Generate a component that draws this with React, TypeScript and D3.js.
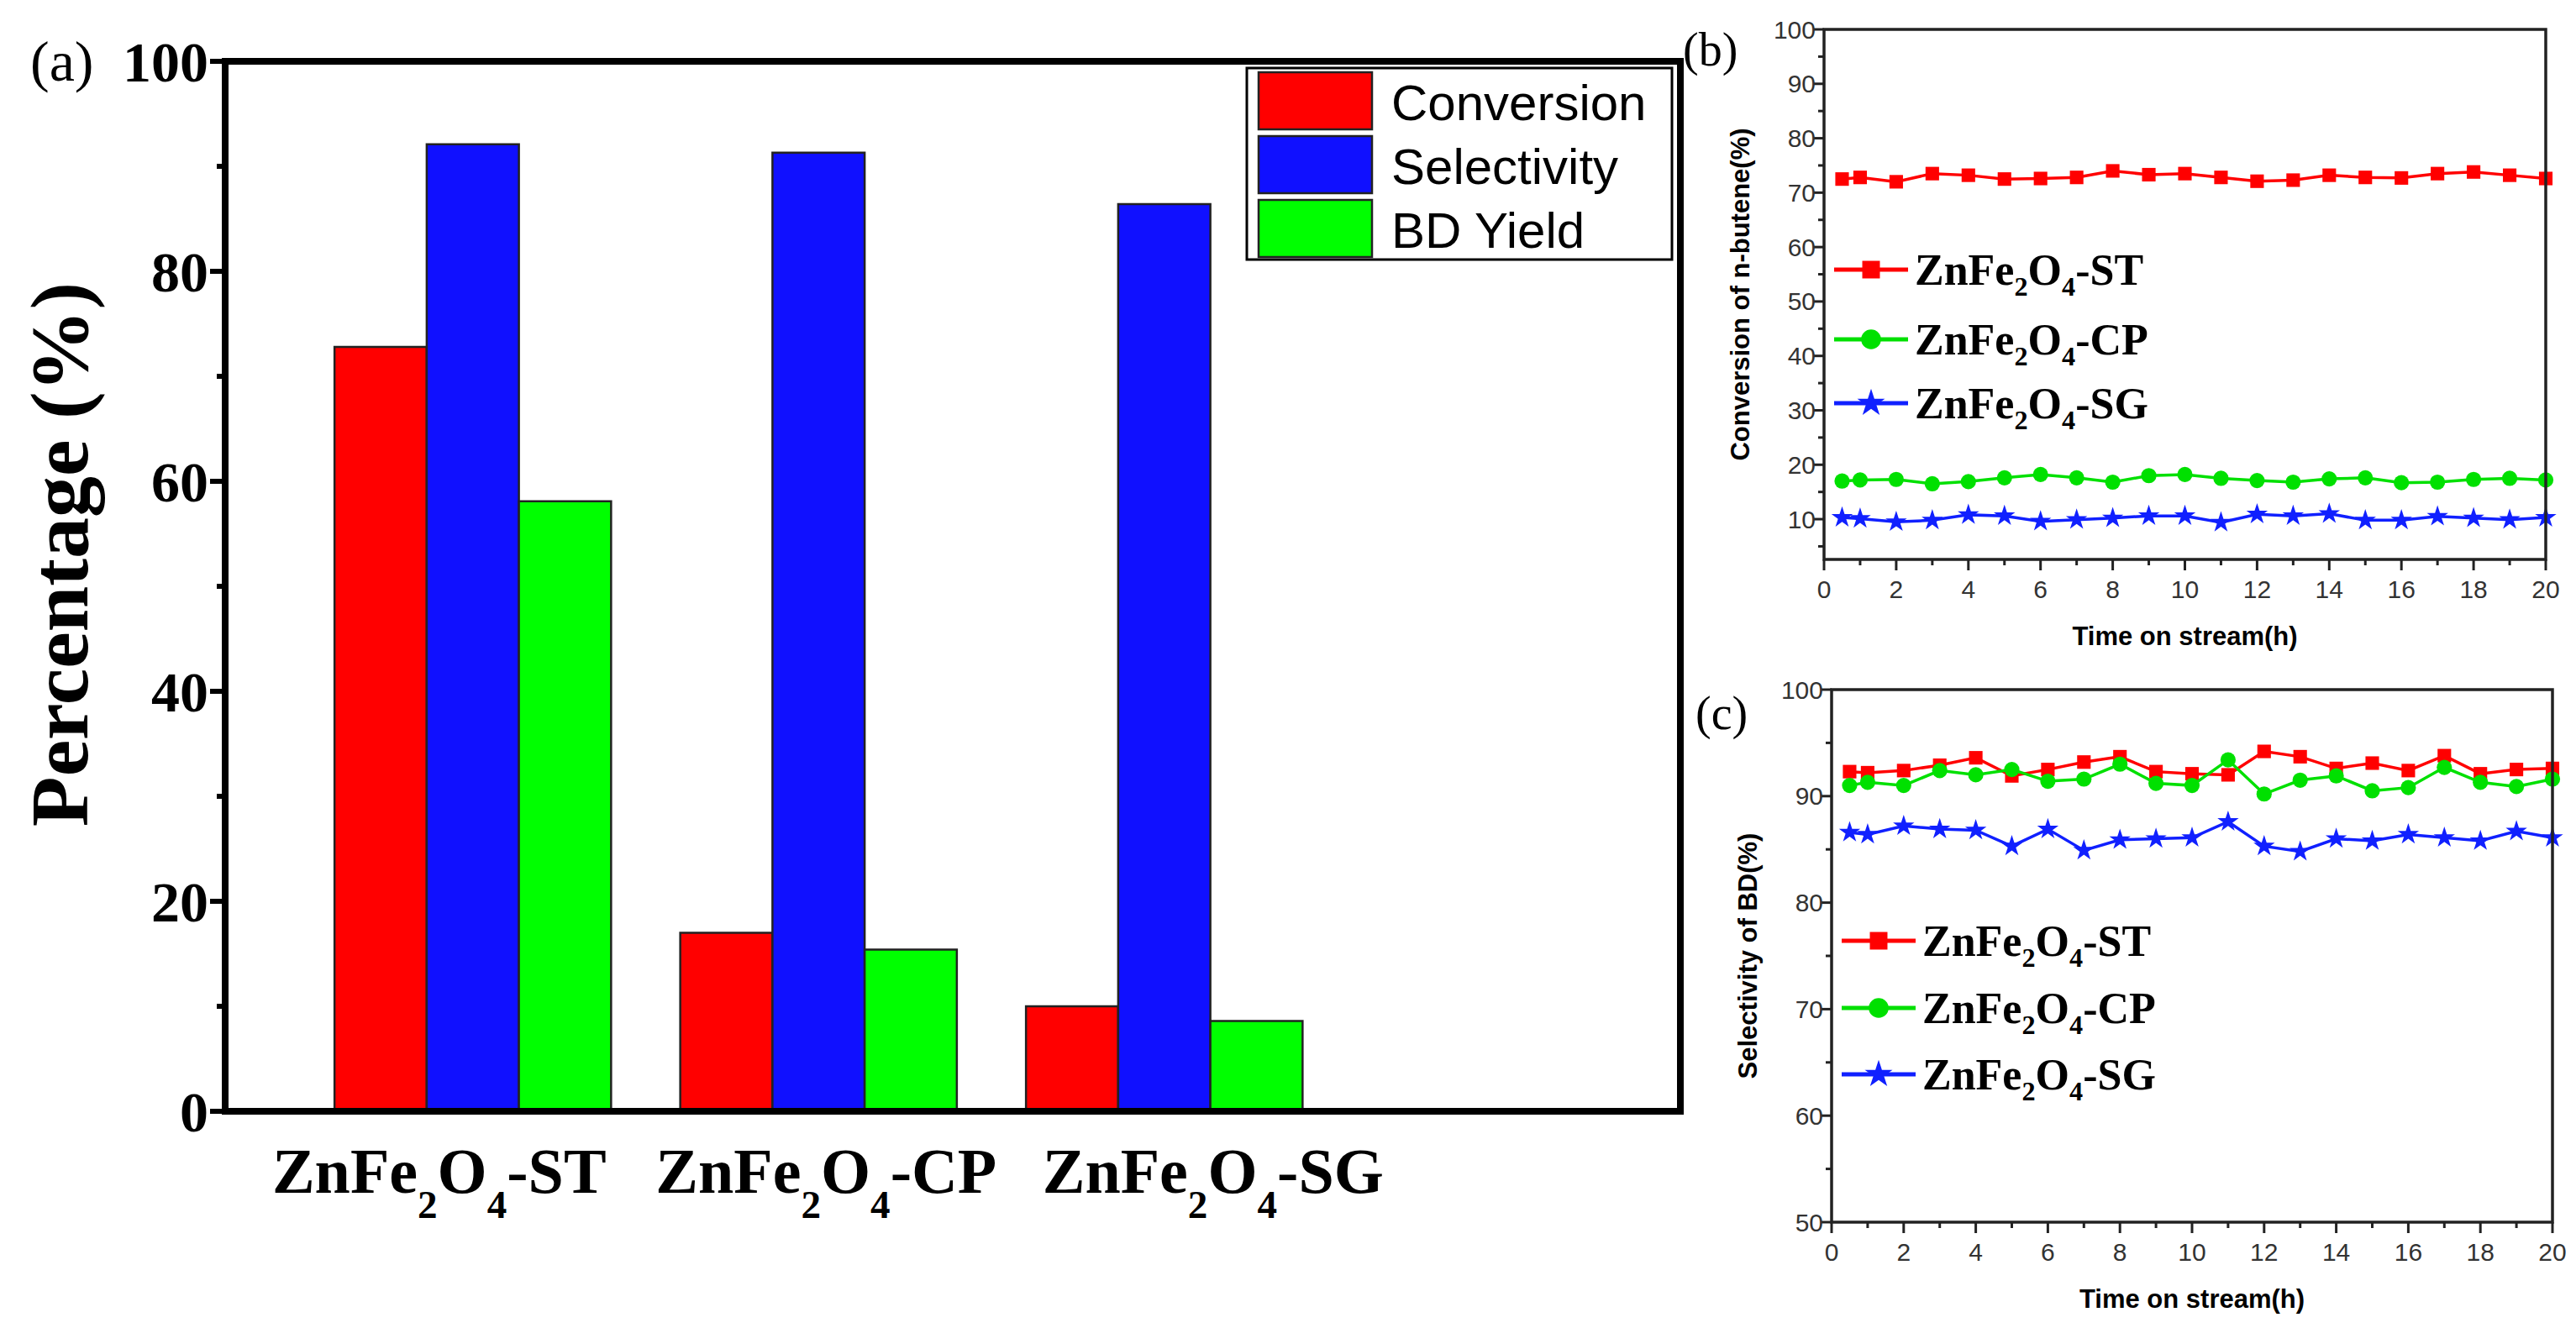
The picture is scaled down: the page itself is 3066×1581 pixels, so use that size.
import React from 'react'
import * as d3 from 'd3'

const samples = ['ST', 'CP', 'SG']
const barSeries = ['Conversion', 'Selectivity', 'BD Yield']
const barColors = ['#ff0000', '#1010ff', '#00ff00']
const conversionBar = [72.8, 17.0, 10.0]
const selectivityBar = [92.1, 91.3, 86.4]
const yieldBar = [58.1, 15.4, 8.6]

const hours = [0.5, 1, 2, 3, 4, 5, 6, 7, 8, 9, 10, 11, 12, 13, 14, 15, 16, 17, 18, 19, 20]
const convST = [72.5, 72.8, 72, 73.5, 73.2, 72.5, 72.6, 72.8, 74, 73.3, 73.5, 72.8, 72.1, 72.3, 73.2, 72.8, 72.7, 73.5, 73.8, 73.2, 72.6]
const convCP = [17, 17.2, 17.3, 16.5, 16.9, 17.6, 18.2, 17.6, 16.8, 18, 18.2, 17.5, 17.1, 16.8, 17.4, 17.6, 16.7, 16.8, 17.3, 17.5, 17.2]
const convSG = [10.3, 10.1, 9.5, 9.8, 10.8, 10.6, 9.6, 9.9, 10.2, 10.6, 10.6, 9.4, 10.9, 10.6, 11, 9.8, 9.8, 10.5, 10.2, 9.9, 10.3]
const selST = [92.3, 92.2, 92.4, 92.9, 93.6, 91.9, 92.5, 93.2, 93.7, 92.3, 92.1, 92, 94.2, 93.7, 92.6, 93.1, 92.4, 93.8, 92.1, 92.5, 92.6]
const selCP = [91, 91.3, 91, 92.4, 92, 92.5, 91.4, 91.6, 93, 91.2, 91, 93.4, 90.2, 91.5, 91.9, 90.5, 90.8, 92.7, 91.3, 90.9, 91.6]
const selSG = [86.6, 86.4, 87.2, 86.9, 86.8, 85.3, 86.9, 84.9, 85.9, 86, 86.1, 87.6, 85.3, 84.8, 86, 85.8, 86.4, 86.1, 85.8, 86.7, 86.1]

const lineColors = ['#ff0000', '#00e000', '#1020ff']
const lineShapes = [d3.symbolSquare, d3.symbolCircle, d3.symbolStar]

const serif = '"Liberation Serif", "Times New Roman", serif'
const sans = '"Liberation Sans", Arial, sans-serif'

const Sample = ({ s, size, drop }: { s: string; size: number; drop: number }) => (
  <>
    ZnFe<tspan fontSize={size * 0.62} dy={size * drop}>2</tspan>
    <tspan dy={-size * drop}>O</tspan>
    <tspan fontSize={size * 0.62} dy={size * drop}>4</tspan>
    <tspan dy={-size * drop}>-{s}</tspan>
  </>
)

const BarPanel = () => {
  const y = d3.scaleLinear().domain([0, 100]).range([1323, 73])
  const x0 = d3.scaleBand().domain([...samples, '']).range([357, 2003]).paddingInner(0.2).paddingOuter(0.1)
  const x1 = d3.scaleBand().domain(barSeries).range([0, x0.bandwidth()])
  const vals = [conversionBar, selectivityBar, yieldBar]
  return (
    <g>
      {samples.map((s, i) =>
        barSeries.map((b, j) => (
          <rect key={s + b} x={x0(s)! + x1(b)!} y={y(vals[j][i])} width={x1.bandwidth()}
            height={y(0) - y(vals[j][i])} fill={barColors[j]} stroke="#222" strokeWidth={2.5} />
        ))
      )}
      <rect x={268} y={73} width={1732} height={1250} fill="none" stroke="#000" strokeWidth={8} />
      {d3.range(0, 101, 10).map(t => (
        <line key={t} x1={268} x2={t % 20 === 0 ? 250 : 258} y1={y(t)} y2={y(t)} stroke="#000" strokeWidth={6} />
      ))}
      {d3.range(0, 101, 20).map(t => (
        <text key={t} x={248} y={y(t)} dy="0.35em" textAnchor="end" fontFamily={serif} fontWeight="bold" fontSize={68}>{t}</text>
      ))}
      <text transform="translate(70,660) rotate(-90)" textAnchor="middle" dy="0.35em" fontFamily={serif} fontWeight="bold" fontSize={98}>Percentage (%)</text>
      {samples.map((s, i) => (
        <text key={s} x={x0(s)! + x0.bandwidth() / 2 - 40 + 49 * i} y={1420} textAnchor="middle" fontFamily={serif} fontWeight="bold" fontSize={76}>
          <Sample s={s} size={76} drop={0.4} />
        </text>
      ))}
      <text x={36} y={96} fontFamily={serif} fontSize={68}>(a)</text>
      <rect x={1484} y={81} width={506} height={228} fill="#fff" stroke="#000" strokeWidth={3} />
      {barSeries.map((b, j) => (
        <g key={b} transform={`translate(1498,${86 + j * 76})`}>
          <rect width={135} height={68} fill={barColors[j]} stroke="#222" strokeWidth={2.5} />
          <text x={158} y={36} dy="0.35em" fontFamily={sans} fontSize={60}>{b}</text>
        </g>
      ))}
    </g>
  )
}

type LP = {
  top: number; bottom: number; left: number; right: number; ymin: number; yticks: number[]; minor: number[]
  series: number[][]; title: string; label: string; legendY: number[]; labelX: number; labelY: number
}

const LinePanel = (p: LP) => {
  const x = d3.scaleLinear().domain([0, 20]).range([p.left, p.right])
  const y = d3.scaleLinear().domain([p.ymin, 100]).range([p.bottom, p.top])
  const line = d3.line<number>().x((_, i) => x(hours[i])).y(d => y(d))
  const sym = (k: number) => d3.symbol(lineShapes[k], k === 2 ? 200 : 260)()!
  return (
    <g>
      {p.series.map((s, k) => (
        <g key={k}>
          <path d={line(s)!} fill="none" stroke={lineColors[k]} strokeWidth={3.5} />
          {s.map((v, i) => (
            <path key={i} d={sym(k)} transform={`translate(${x(hours[i])},${y(v)})`} fill={lineColors[k]} />
          ))}
        </g>
      ))}
      <rect x={p.left} y={p.top} width={p.right - p.left} height={p.bottom - p.top} fill="none" stroke="#222" strokeWidth={3.5} />
      {p.minor.map(t => (
        <line key={'m' + t} x1={p.left} x2={p.left - 7} y1={y(t)} y2={y(t)} stroke="#222" strokeWidth={3} />
      ))}
      {p.yticks.map(t => (
        <g key={t}>
          <line x1={p.left} x2={p.left - 13} y1={y(t)} y2={y(t)} stroke="#222" strokeWidth={3} />
          <text x={p.left - 10} y={y(t)} dy="0.35em" textAnchor="end" fontFamily={sans} fontSize={30} fill="#333">{t}</text>
        </g>
      ))}
      {d3.range(0, 21, 1).map(t => (
        <line key={'x' + t} x1={x(t)} x2={x(t)} y1={p.bottom} y2={p.bottom + (t % 2 === 0 ? 13 : 7)} stroke="#222" strokeWidth={3} />
      ))}
      {d3.range(0, 21, 2).map(t => (
        <text key={'xl' + t} x={x(t)} y={p.bottom + 46} textAnchor="middle" fontFamily={sans} fontSize={30} fill="#333">{t}</text>
      ))}
      <text x={(p.left + p.right) / 2} y={p.bottom + 102} textAnchor="middle" fontFamily={sans} fontWeight="bold" fontSize={31}>Time on stream(h)</text>
      <text transform={`translate(${p.left - 100},${(p.top + p.bottom) / 2}) rotate(-90)`} textAnchor="middle" dy="0.35em" fontFamily={sans} fontWeight="bold" fontSize={31}>{p.title}</text>
      <text x={p.labelX} y={p.labelY} fontFamily={serif} fontSize={56}>{p.label}</text>
      {p.legendY.map((ly, k) => (
        <g key={k}>
          <line x1={p.left + 12} x2={p.left + 100} y1={ly} y2={ly} stroke={lineColors[k]} strokeWidth={5} />
          <path d={sym(k)} transform={`translate(${p.left + 56},${ly}) scale(1.3)`} fill={lineColors[k]} />
          <text x={p.left + 108} y={ly} dy="0.35em" fontFamily={serif} fontWeight="bold" fontSize={52}>
            <Sample s={['ST', 'CP', 'SG'][k]} size={52} drop={0.25} />
          </text>
        </g>
      ))}
    </g>
  )
}

export default function App() {
  return (
    <svg width={3066} height={1581} style={{ position: 'absolute', left: 0, top: 0 }}>
      <BarPanel />
      <LinePanel top={35} bottom={666} left={2171} right={3030} ymin={2.6}
        yticks={d3.range(10, 101, 10)} minor={d3.range(5, 100, 10)}
        series={[convST, convCP, convSG]} title="Conversion of n-butene(%)" label="(b)" labelX={2003} labelY={78}
        legendY={[321, 404, 480]} />
      <LinePanel top={821} bottom={1455} left={2180} right={3038} ymin={50}
        yticks={d3.range(50, 101, 10)} minor={d3.range(55, 100, 10)}
        series={[selST, selCP, selSG]} title="Selectivity of BD(%)" label="(c)" labelX={2018} labelY={868}
        legendY={[1120, 1200, 1279]} />
    </svg>
  )
}
